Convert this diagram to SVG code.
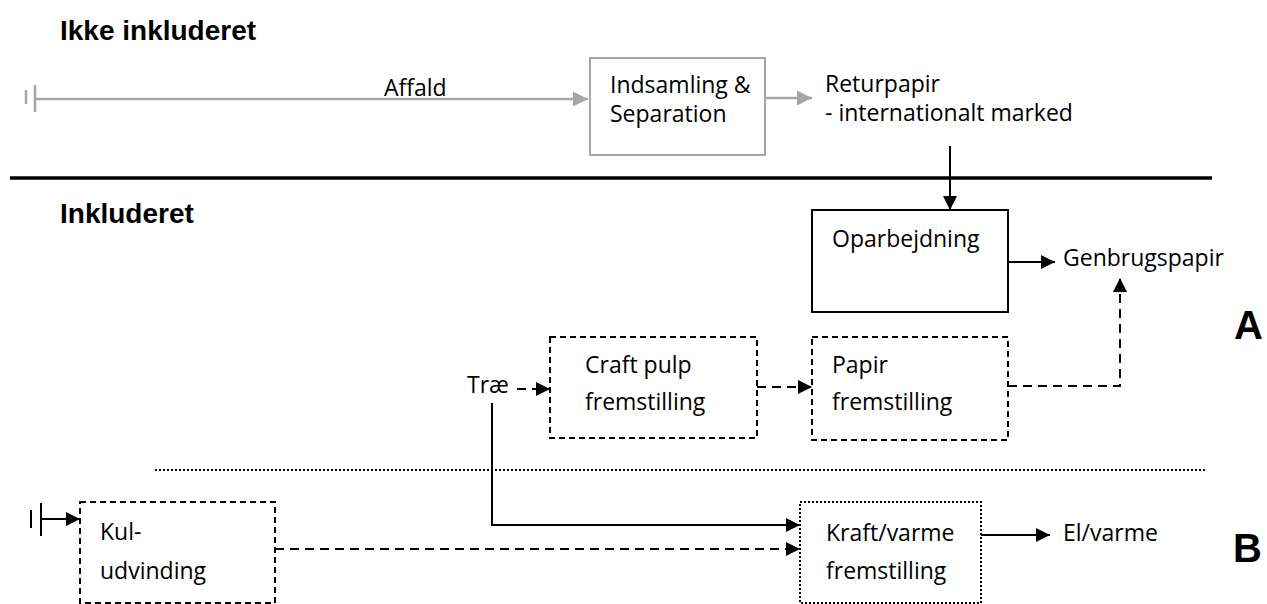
<svg xmlns="http://www.w3.org/2000/svg" width="1267" height="604" viewBox="0 0 1267 604">
<style>
  text { font-family: "Open Sans", "Liberation Sans", sans-serif; font-size: 23px; fill: #000; }
  .title { font-family: "Liberation Sans", Arial, sans-serif; font-weight: bold; font-size: 28px; }
  .big { font-family: "Liberation Sans", Arial, sans-serif; font-weight: bold; font-size: 40px; }
  .box { fill: #fff; stroke: #000; stroke-width: 2; }
  .gbox { fill: #fff; stroke: #a6a6a6; stroke-width: 2; }
  .bdash { stroke-dasharray: 6 4; }
  .dash { stroke-dasharray: 9 6; }
  .dot { stroke-dasharray: 2 2; }
  .ln { fill: none; stroke: #000; stroke-width: 2; }
  .gln { fill: none; stroke: #a6a6a6; stroke-width: 2.5; }
</style>
<defs>
  <marker id="ah" viewBox="0 0 10 10" refX="10" refY="5" markerWidth="15" markerHeight="14" markerUnits="userSpaceOnUse" orient="auto">
    <path d="M0,0 L10,5 L0,10 z" fill="#000"/>
  </marker>
  <marker id="gah" viewBox="0 0 10 10" refX="10" refY="5" markerWidth="15" markerHeight="15" markerUnits="userSpaceOnUse" orient="auto">
    <path d="M0,0 L10,5 L0,10 z" fill="#a6a6a6"/>
  </marker>
</defs>

<text class="title" x="60" y="40">Ikke inkluderet</text>
<text class="title" x="60" y="223">Inkluderet</text>
<text class="big" x="1234" y="339">A</text>
<text class="big" x="1233" y="562">B</text>

<g id="separators">
  <line x1="10" y1="178" x2="1212" y2="178" stroke="#000" stroke-width="3.5"/>
  <line x1="155" y1="470" x2="1205" y2="470" stroke="#000" stroke-width="2" class="dot"/>
</g>

<g id="connectors">
  <line x1="26" y1="90" x2="26" y2="104" class="gln"/>
  <line x1="35" y1="85" x2="35" y2="112" class="gln"/>
  <line x1="35" y1="99" x2="588" y2="99" class="gln" marker-end="url(#gah)"/>
  <line x1="765" y1="98" x2="812" y2="98" class="gln" marker-end="url(#gah)"/>
  <line x1="950" y1="146" x2="950" y2="210" class="ln" marker-end="url(#ah)"/>
  <line x1="1008" y1="262" x2="1055" y2="262" class="ln" marker-end="url(#ah)"/>
  <path d="M1008,386 H1120 V278" class="ln dash" marker-end="url(#ah)"/>
  <line x1="517" y1="389" x2="550" y2="389" class="ln dash" marker-end="url(#ah)"/>
  <line x1="757" y1="387" x2="812" y2="387" class="ln dash" marker-end="url(#ah)"/>
  <path d="M492,403 V525 H800" class="ln" marker-end="url(#ah)"/>
  <line x1="275" y1="549" x2="800" y2="549" class="ln dash" marker-end="url(#ah)"/>
  <line x1="981" y1="535" x2="1050" y2="535" class="ln" marker-end="url(#ah)"/>
  <line x1="31" y1="510" x2="31" y2="528" class="ln"/>
  <line x1="41" y1="503" x2="41" y2="536" class="ln"/>
  <line x1="41" y1="519" x2="80" y2="519" class="ln" marker-end="url(#ah)"/>
</g>

<g id="affald"><text x="384" y="96">Affald</text></g>

<g id="indsamling">
  <rect x="590" y="58" width="175" height="97" class="gbox"/>
  <text x="610" y="93">Indsamling &amp;</text>
  <text x="610" y="122">Separation</text>
</g>

<g id="returpapir">
  <text x="825" y="92">Returpapir</text>
  <text x="825" y="121">- internationalt marked</text>
</g>

<g id="oparbejdning">
  <rect x="812" y="210" width="196" height="102" class="box"/>
  <text x="832" y="247">Oparbejdning</text>
</g>

<g id="genbrugspapir"><text x="1063" y="266">Genbrugspapir</text></g>

<g id="trae"><text x="467" y="393">Træ</text></g>

<g id="craftpulp">
  <rect x="550" y="337" width="207" height="101" class="box bdash"/>
  <text x="585" y="373">Craft pulp</text>
  <text x="585" y="410">fremstilling</text>
</g>

<g id="papir">
  <rect x="812" y="337" width="196" height="103" class="box bdash"/>
  <text x="832" y="373">Papir</text>
  <text x="832" y="410">fremstilling</text>
</g>

<g id="kul">
  <rect x="80" y="502" width="195" height="101" class="box bdash"/>
  <text x="100" y="540">Kul-</text>
  <text x="100" y="579">udvinding</text>
</g>

<g id="kraftvarme">
  <rect x="800" y="502" width="181" height="101" class="box dot"/>
  <text x="826" y="541">Kraft/varme</text>
  <text x="826" y="579">fremstilling</text>
</g>

<g id="elvarme"><text x="1063" y="541">El/varme</text></g>
</svg>
